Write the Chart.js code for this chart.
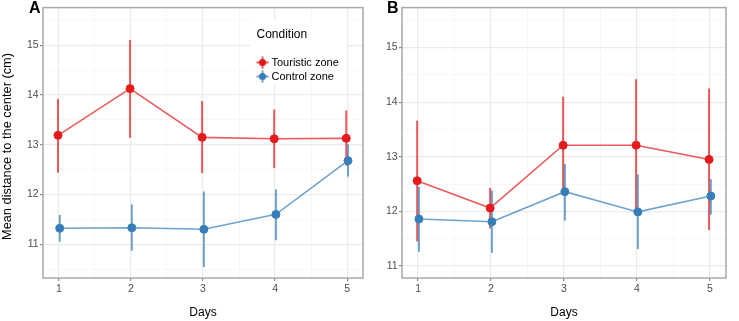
<!DOCTYPE html>
<html>
<head>
<meta charset="utf-8">
<script src="https://cdn.jsdelivr.net/npm/chart.js@4"></script>
<style>
html, body { margin: 0; padding: 0; background: #fff; }
#chartA { position: absolute; left: 0; top: 0; }
#chartB { position: absolute; left: 370px; top: 0; }
</style>
</head>
<body>
<canvas id="chartA" width="370" height="321"></canvas>
<canvas id="chartB" width="369" height="321"></canvas>
<script>
const days = [1, 2, 3, 4, 5];
const seriesNames = ['Touristic zone', 'Control zone'];
const yTitle = 'Mean distance to the center (cm)';

// panel A
const touristA = [13.19, 14.13, 13.15, 13.12, 13.13];
const touristALo = [12.44, 13.14, 12.43, 12.53, 12.58];
const touristAHi = [13.92, 15.11, 13.88, 13.71, 13.69];
const controlA = [11.32, 11.33, 11.30, 11.60, 12.68];
const controlALo = [11.05, 10.87, 10.54, 11.08, 12.36];
const controlAHi = [11.59, 11.80, 12.06, 12.10, 13.01];

// panel B
const touristB = [12.56, 12.06, 13.21, 13.21, 12.95];
const touristBLo = [11.45, 11.69, 12.32, 12.00, 11.66];
const touristBHi = [13.66, 12.43, 14.10, 14.42, 14.25];
const controlB = [11.86, 11.81, 12.36, 11.99, 12.28];
const controlBLo = [11.26, 11.24, 11.83, 11.31, 11.94];
const controlBHi = [12.45, 12.38, 12.87, 12.68, 12.59];

const FONT = "'Liberation Sans', Arial, sans-serif";
const RED = '#E41A1C', RED_L = 'rgba(228,26,28,0.72)';
const BLUE = '#377EB8', BLUE_L = 'rgba(55,126,184,0.72)';
const DODGE = 0.012;

const isMajor = c => c.tick && Number.isInteger(c.tick.value);

// vertical error bars from the dataset's lo/hi arrays
const errorBars = {
    id: 'errorBars',
    beforeDatasetsDraw(chart) {
        const { ctx, scales: { x, y } } = chart;
        chart.data.datasets.forEach(ds => {
            ctx.save();
            ctx.strokeStyle = ds.borderColor;
            ctx.lineWidth = 2;
            ds.data.forEach((p, i) => {
                const px = x.getPixelForValue(p.x);
                ctx.beginPath();
                ctx.moveTo(px, y.getPixelForValue(ds.errLo[i]));
                ctx.lineTo(px, y.getPixelForValue(ds.errHi[i]));
                ctx.stroke();
            });
            ctx.restore();
        });
    }
};

// panel frame, letter and (panel A only) the y title
const panelFrame = {
    id: 'panelFrame',
    afterDraw(chart, args, opts) {
        const { ctx, chartArea: a } = chart;
        ctx.save();
        ctx.strokeStyle = '#a8a8a8';
        ctx.lineWidth = 1.5;
        ctx.strokeRect(a.left, a.top, a.right - a.left, a.bottom - a.top);
        ctx.fillStyle = '#000';
        ctx.font = 'bold 16px ' + FONT;
        ctx.textBaseline = 'top';
        ctx.textAlign = 'left';
        ctx.fillText(opts.letter, opts.lx, 1);
        if (opts.yTitle) {
            ctx.translate(7.5, 146.5);
            ctx.rotate(-Math.PI / 2);
            ctx.font = '12.8px ' + FONT;
            ctx.textAlign = 'center';
            ctx.textBaseline = 'middle';
            ctx.fillText(yTitle, 0, 0);
        }
        ctx.restore();
    }
};

// ggplot-like legend box inside panel A
const insideLegend = {
    id: 'insideLegend',
    beforeDatasetsDraw(chart, args, opts) {
        if (!opts.show) return;
        const { ctx } = chart;
        ctx.save();
        ctx.fillStyle = '#fff';
        ctx.fillRect(250, 20, 97, 63);
        ctx.fillStyle = '#000';
        ctx.font = '12px ' + FONT;
        ctx.textBaseline = 'middle';
        ctx.textAlign = 'left';
        ctx.fillText('Condition', 256.5, 35);
        const cols = [[RED, RED_L], [BLUE, BLUE_L]];
        seriesNames.forEach((name, i) => {
            const cy = 62.5 + i * 14;
            const cx = 262.5;
            ctx.strokeStyle = cols[i][1];
            ctx.lineWidth = 2;
            ctx.beginPath();
            ctx.moveTo(cx - 6, cy); ctx.lineTo(cx + 6, cy);
            ctx.moveTo(cx, cy - 6); ctx.lineTo(cx, cy + 6);
            ctx.stroke();
            ctx.fillStyle = cols[i][0];
            ctx.beginPath();
            ctx.arc(cx, cy, 3.5, 0, Math.PI * 2);
            ctx.fill();
            ctx.fillStyle = '#000';
            ctx.font = '11px ' + FONT;
            ctx.fillText(name, 271.5, cy + 0.5);
        });
        ctx.restore();
    }
};

function makeSet(label, vals, lo, hi, dodge, solid, light) {
    return {
        label: label,
        data: days.map((d, i) => ({ x: d + dodge, y: vals[i] })),
        errLo: lo,
        errHi: hi,
        borderColor: light,
        borderWidth: 1.6,
        backgroundColor: solid,
        pointBackgroundColor: solid,
        pointBorderColor: solid,
        pointBorderWidth: 1,
        pointRadius: 4,
        tension: 0
    };
}

function makePanel(id, p) {
    new Chart(document.getElementById(id).getContext('2d'), {
        type: 'line',
        data: {
            datasets: [
                makeSet(seriesNames[0], p.red, p.redLo, p.redHi, -DODGE, RED, RED_L),
                makeSet(seriesNames[1], p.blue, p.blueLo, p.blueHi, DODGE, BLUE, BLUE_L)
            ]
        },
        options: {
            responsive: false,
            animation: false,
            layout: { padding: { left: 0, top: 5, right: p.padRight, bottom: 0 } },
            plugins: {
                legend: { display: false },
                tooltip: { enabled: false },
                panelFrame: { letter: p.letter, lx: p.letterX, yTitle: p.yTitle },
                insideLegend: { show: p.legend }
            },
            scales: {
                x: {
                    type: 'linear',
                    min: 0.78,
                    max: 5.22,
                    ticks: {
                        stepSize: 0.5, autoSkip: false, includeBounds: false, maxRotation: 0,
                        callback: v => Number.isInteger(v) ? String(v) : '',
                        color: '#4d4d4d', font: { family: FONT, size: 10.5 }, padding: 2
                    },
                    grid: {
                        color: c => isMajor(c) ? '#ebebeb' : '#f5f5f5',
                        lineWidth: c => isMajor(c) ? 1.2 : 0.8,
                        tickLength: 3,
                        tickColor: c => isMajor(c) ? '#8a8a8a' : 'rgba(0,0,0,0)'
                    },
                    border: { display: false },
                    title: { display: true, text: 'Days', color: '#000', font: { family: FONT, size: 12 }, padding: { top: 0, bottom: 1 } },
                    afterFit: s => { s.height = 43; }
                },
                y: {
                    min: p.yMin,
                    max: p.yMax,
                    ticks: {
                        stepSize: 0.5, autoSkip: false, includeBounds: false,
                        callback: v => Number.isInteger(v) ? String(v) : '',
                        color: '#4d4d4d', font: { family: FONT, size: 10.5 }, padding: 1.3
                    },
                    grid: {
                        color: c => isMajor(c) ? '#ebebeb' : '#f5f5f5',
                        lineWidth: c => isMajor(c) ? 1.2 : 0.8,
                        tickLength: 3,
                        tickColor: c => isMajor(c) ? '#8a8a8a' : 'rgba(0,0,0,0)'
                    },
                    border: { display: false },
                    afterFit: s => { s.width = p.yWidth; }
                }
            }
        },
        plugins: [errorBars, insideLegend, panelFrame]
    });
}

makePanel('chartA', {
    red: touristA, redLo: touristALo, redHi: touristAHi,
    blue: controlA, blueLo: controlALo, blueHi: controlAHi,
    yMin: 10.32, yMax: 15.76, yWidth: 43, padRight: 7,
    yTitle: true, legend: true, letter: 'A', letterX: 29
});

makePanel('chartB', {
    red: touristB, redLo: touristBLo, redHi: touristBHi,
    blue: controlB, blueLo: controlBLo, blueHi: controlBHi,
    yMin: 10.78, yMax: 15.73, yWidth: 32, padRight: 13,
    yTitle: false, legend: false, letter: 'B', letterX: 17
});
</script>
</body>
</html>
